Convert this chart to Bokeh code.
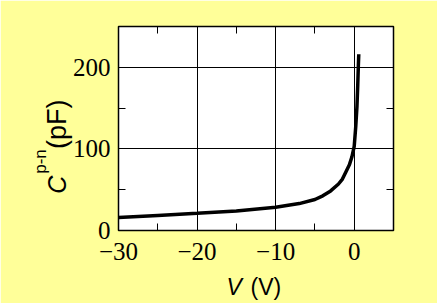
import math
from bokeh.plotting import figure
from bokeh.models import Range1d, FixedTicker, LinearAxis, Label
from bokeh.embed import file_html
from bokeh.resources import INLINE

# Data
V = [-30, -25, -20, -15, -10, -7, -5, -4, -3, -2, -1.5, -1, -0.6, -0.3, 0, 0.2, 0.35, 0.45, 0.52, 0.58]
C = [16, 18.5, 21, 24, 28.5, 33, 38, 42.5, 48.5, 57, 63, 73, 81, 90, 103, 128, 152, 178, 200, 216]

x_major = [-30, -20, -10, 0]
x_minor = [-25, -15, -5]
y_major = [0, 100, 200]
y_minor = [50, 150]
x_labels = {-30: "\u221230", -20: "\u221220", -10: "\u221210", 0: "0"}
y_labels = {0: "0", 100: "100", 200: "200"}

BG = "#FFFF99"
SERIF = "Liberation Serif"
SANS = "Liberation Sans"

X0, X1, Y0, Y1 = -30, 5, 0, 250
FL, FR, FT, FB = 118, 393, 25, 230

p = figure(width=437, height=303, output_backend="svg", toolbar_location=None,
           x_range=Range1d(X0, X1), y_range=Range1d(Y0, Y1),
           x_axis_location=None, y_axis_location=None,
           min_border_left=FL, min_border_right=437 - FR, min_border_top=FT, min_border_bottom=303 - FB)
p.border_fill_color = BG
p.background_fill_color = "white"
p.outline_line_color = "black"
p.outline_line_width = 1.5

p.xgrid.ticker = FixedTicker(ticks=list(x_major))
p.ygrid.ticker = FixedTicker(ticks=list(y_major))
for g in (p.xgrid[0], p.ygrid[0]):
    g.grid_line_color = "black"
    g.grid_line_width = 1
    g.grid_line_alpha = 1.0


def make_axis(major, minor, overrides, show_labels):
    ax = LinearAxis(ticker=FixedTicker(ticks=major, minor_ticks=minor))
    ax.axis_line_color = None
    ax.major_tick_in = 7
    ax.major_tick_out = 0
    ax.minor_tick_in = 7
    ax.minor_tick_out = 0
    ax.major_tick_line_color = "black"
    ax.minor_tick_line_color = "black"
    if show_labels:
        ax.major_label_overrides = overrides
        ax.major_label_text_font = SERIF
        ax.major_label_text_font_size = "25px"
        ax.major_label_text_color = "black"
    else:
        ax.major_label_overrides = {t: "" for t in major}
        ax.major_label_text_font_size = "1px"
        ax.major_label_standoff = 0
    return ax


xb = make_axis(x_major, x_minor, x_labels, True)
xb.major_label_standoff = 12
p.add_layout(xb, "below")
yl = make_axis(y_major, y_minor, y_labels, True)
yl.major_label_standoff = 8
p.add_layout(yl, "left")
p.add_layout(make_axis(x_major, x_minor, x_labels, False), "above")
p.add_layout(make_axis(y_major, y_minor, y_labels, False), "right")

p.line(V, C, line_color="black", line_width=3.5)


# Axis titles: positioned in data coordinates (relative to the frame); the side
# panel that hosts each one only provides room so that the frame keeps its size.
def to_data(cx, cy):
    x = X0 + (cx - FL) / (FR - FL) * (X1 - X0)
    y = Y0 + (FB - cy) / (FB - FT) * (Y1 - Y0)
    return x, y


def lab(side, text, cx, cy, size, font=SANS, style="normal", angle=0.0):
    x, y = to_data(cx, cy)
    p.add_layout(Label(x=x, y=y, text=text, text_font=font, text_font_size=size,
                       text_font_style=style, text_color="black", angle=angle,
                       text_align="left", text_baseline="alphabetic"), side)


lab("below", "V", 226, 287, "23px", style="italic")
lab("above", "(V)", 250, 287, "23px")

a = math.pi / 2
lab("left", "C", 56, 193, "25px", style="italic", angle=a)
lab("right", "p-n", 39.5, 173, "17px", angle=a)
lab("left", "(pF)", 56, 148, "27px", angle=a)

open("out.html", "w").write(file_html(p, INLINE))
